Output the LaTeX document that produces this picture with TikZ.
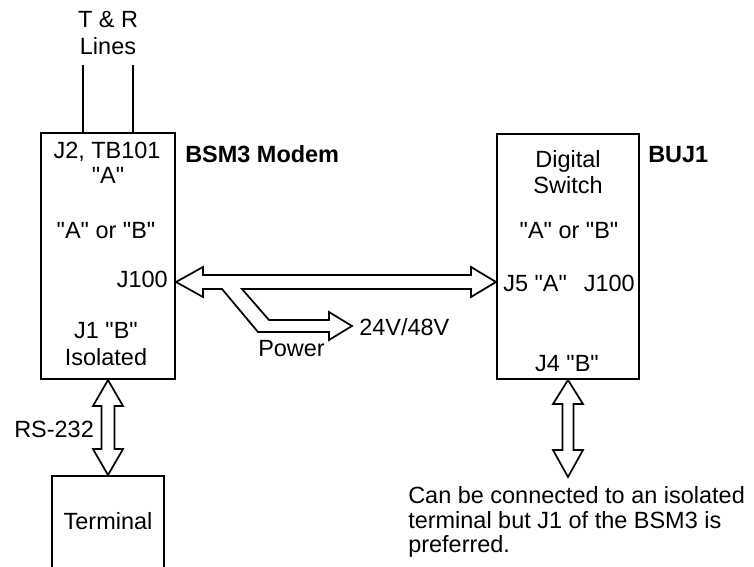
\documentclass[tikz,border=0pt]{standalone}
\usepackage{fontspec}
\setmainfont{Liberation Sans}[Ligatures=TeXOff]
\usepackage{tikz}

\tikzset{
  box/.style={draw, line width=1.5pt, inner sep=0pt},
  lbl/.style={inner sep=0pt, anchor=base},
  hollow/.style={draw, line width=1.3pt, fill=white, line join=miter},
}

\begin{document}
\begin{tikzpicture}[x=0.75pt,y=0.75pt,yscale=-1,xscale=1,font=\fontsize{17.6}{18.4}\selectfont]
\useasboundingbox (0,0) rectangle (754,567);

% boxes
\node [box, minimum width=100.5pt, minimum height=184.5pt] (bsm) at (108,256) {};
\node [box, minimum width=106.5pt, minimum height=183.75pt] (buj) at (568,256.5) {};
\node [box, minimum width=84pt, minimum height=90pt] (term) at (108,536) {};

% T & R lines
\coordinate (tline) at (83,65);
\coordinate (rline) at (133,65);
\draw [line width=2.1pt] (tline) -- (tline |- bsm.north);
\draw [line width=2.1pt] (rline) -- (rline |- bsm.north);

\node [lbl] (tr) at (108,28) {T \& R};
\node [lbl] (trlines) at (108,55) {Lines};

% BSM3 texts
\node [lbl] (bsmj2) at (107,158) {J2, TB101};
\node [lbl] (bsma) at (108,183) {"A"};
\node [lbl] (bsmab) at (106,238) {"A" or "B"};
\node [lbl, anchor=base east] (bsmj100) at (168,287) {J100};
\node [lbl] (bsmj1) at (106,338) {J1 "B"};
\node [lbl] (bsmiso) at (106,365) {Isolated};
\node [lbl, anchor=base west] (bsmname) at (185,162) {\bfseries BSM3 Modem};

% BUJ1 texts
\node [lbl] (bujdig) at (568,167) {Digital};
\node [lbl] (bujsw) at (568,193) {Switch};
\node [lbl] (bujab) at (569,238) {"A" or "B"};
\node [lbl, anchor=base west] (bujj5) at (503,291) {J5 "A"};
\node [lbl, anchor=base east] (bujj100) at (635,291) {J100};
\node [lbl] (bujj4) at (567,371) {J4 "B"};
\node [lbl, anchor=base west] (bujname) at (648,162) {\bfseries BUJ1};

% J100 to J5 with power branch
\coordinate (pl) at (bsm.east |- 0,282);
\coordinate (pr) at (buj.west |- 0,282);
\draw [hollow] (pl) -- ++(27,-15) -- ++(0,8) -- ++(268,0) -- ++(0,-8) -- (pr)
  -- ++(-25,15) -- ++(0,-8) -- ++(-229,0) -- ++(27,31) -- ++(60,0) -- ++(0,-8)
  -- ++(23,14) -- ++(-23,14) -- ++(0,-8) -- ++(-71,0) -- ++(-36,-43)
  -- ++(-19,0) -- ++(0,8) -- cycle;
\node [lbl, anchor=base west] (volt) at (359,335) {24V/48V};
\node [lbl, anchor=base west] (power) at (258,356) {Power};

% RS-232 link
\draw [hollow] (bsm.south) -- ++(15,26) -- ++(-8.5,0) -- ++(0,43) -- ++(8.5,0) -- (term.north)
  -- ++(-15,-26) -- ++(8.5,0) -- ++(0,-43) -- ++(-8.5,0) -- cycle;
\node [lbl, anchor=base west] (rs) at (14,437) {RS-232};
\node [lbl] (termtxt) at (108,529) {Terminal};

% J4 link
\coordinate (j4end) at (buj.south |- 0,477);
\draw [hollow] (buj.south) -- ++(15,24) -- ++(-9.5,0) -- ++(0,46) -- ++(9.5,0) -- (j4end)
  -- ++(-15,-27) -- ++(9.5,0) -- ++(0,-46) -- ++(-9.5,0) -- cycle;
\node [inner sep=0pt, anchor=north west, align=left] (note) at (408,486.5)
  {Can be connected to an isolated\\terminal but J1 of the BSM3 is\\preferred.};

\end{tikzpicture}
\end{document}
